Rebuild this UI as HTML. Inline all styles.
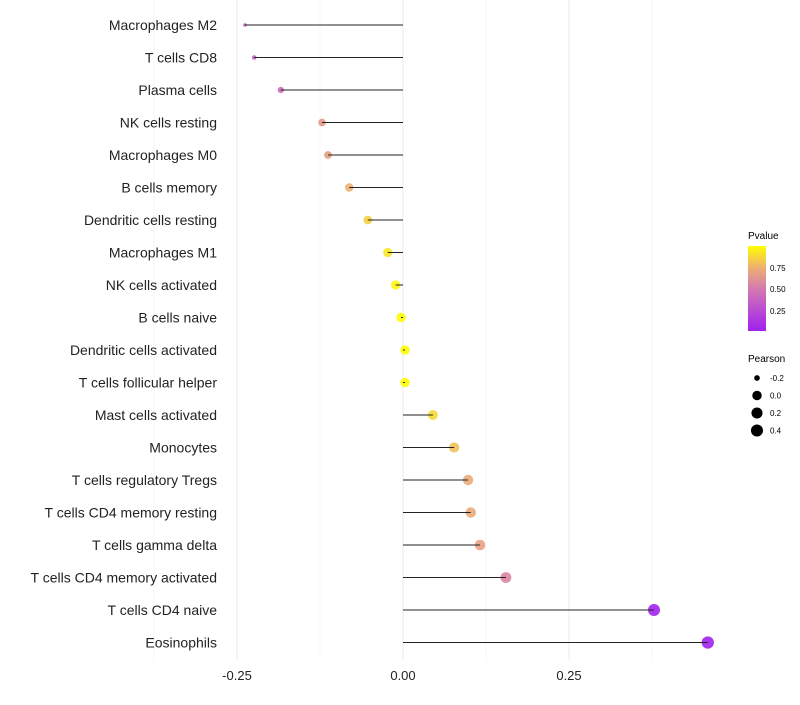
<!DOCTYPE html>
<html><head><meta charset="utf-8"><style>
body{margin:0;background:#fff;font-family:"Liberation Sans",sans-serif}
svg text{font-family:"Liberation Sans",sans-serif}
</style></head><body>
<svg id="chart" width="800" height="700" xmlns="http://www.w3.org/2000/svg">
<defs><linearGradient id="pg" x1="0" y1="1" x2="0" y2="0">
<stop offset="0" stop-color="#a020f0"/><stop offset="0.5" stop-color="#d47ab0"/><stop offset="0.75" stop-color="#eeb070"/><stop offset="1" stop-color="#ffff00"/></linearGradient></defs>
<g id="grid"></g>
<g id="pts"></g>
<g id="marks"></g>
<g id="ylab"></g>
<g id="xlab"></g>
<g>
<text x="748" y="239" font-size="10" fill="#000">Pvalue</text>
<rect x="748" y="246" width="18" height="85" fill="url(#pg)"/>
<text x="770" y="271" font-size="8">0.75</text>
<text x="770" y="292" font-size="8">0.50</text>
<text x="770" y="314" font-size="8">0.25</text>
</g>
<g id="sizeleg">
<text x="748" y="362" font-size="10">Pearson</text>
</g>
</svg>
<script>
const categories=["Macrophages M2","T cells CD8","Plasma cells","NK cells resting","Macrophages M0","B cells memory","Dendritic cells resting","Macrophages M1","NK cells activated","B cells naive","Dendritic cells activated","T cells follicular helper","Mast cells activated","Monocytes","T cells regulatory  Tregs","T cells CD4 memory resting","T cells gamma delta","T cells CD4 memory activated","T cells CD4 naive","Eosinophils"];
const pearson=[-0.238,-0.224,-0.184,-0.122,-0.113,-0.081,-0.053,-0.023,-0.011,-0.003,0.003,0.003,0.045,0.077,0.098,0.102,0.116,0.155,0.378,0.459];
const pvalues=[0.3,0.35,0.4,0.65,0.67,0.75,0.85,0.92,0.97,0.99,0.99,0.99,0.88,0.8,0.72,0.72,0.68,0.55,0.02,0.01];
const xTicks=[-0.25,0,0.25];
const xTickLabels=["-0.25","0.00","0.25"];
const sizeLegend=[-0.2,0,0.2,0.4];
const NS="http://www.w3.org/2000/svg";
const xs=v=>403+v*664;
const ys=i=>25+i*32.5;
const rs=v=>{const s=Math.sqrt(Math.max(0,v+0.245));return 1+9.5*s-4*s*s;};
function col(p){const st=[[0,[160,32,240]],[0.5,[212,122,176]],[0.75,[238,176,112]],[1,[255,255,0]]];
for(let k=1;k<st.length;k++){if(p<=st[k][0]){const a=st[k-1],b=st[k],t=(p-a[0])/(b[0]-a[0]);return 'rgb('+a[1].map((c,j)=>Math.round(c+(b[1][j]-c)*t)).join(',')+')';}}return 'rgb(255,255,0)';}
function mk(t,attrs,parent){const e=document.createElementNS(NS,t);for(const k in attrs)e.setAttribute(k,attrs[k]);parent.appendChild(e);return e;}
const grid=document.getElementById('grid'),marks=document.getElementById('marks'),pts=document.getElementById('pts'),ylab=document.getElementById('ylab'),xlab=document.getElementById('xlab'),sl=document.getElementById('sizeleg');
[-0.375,-0.125,0.125,0.375].forEach(v=>{const l=mk('line',{x1:xs(v),x2:xs(v),y1:0,y2:660,stroke:'#f4f4f4','stroke-width':0.7},grid);

});
xTicks.forEach((v,i)=>{const l=mk('line',{x1:xs(v),x2:xs(v),y1:0,y2:660,stroke:'#ebebeb','stroke-width':1},grid);


const t=mk('text',{x:xs(v),y:680,'font-size':13,'text-anchor':'middle',fill:'#222'},xlab);t.textContent=xTickLabels[i];

});
categories.forEach((c,i)=>{const y=ys(i);
const p=mk('circle',{cx:xs(pearson[i]),cy:y,r:rs(pearson[i]),fill:col(pvalues[i]),'fill-opacity':0.9},pts);


const l=mk('line',{x1:xs(0),x2:xs(pearson[i]),y1:y,y2:y,stroke:'#222','stroke-width':1},marks);


const t=mk('text',{x:217,y:y+5,'font-size':14,'text-anchor':'end',fill:'#222'},ylab);t.textContent=c;

});
sizeLegend.forEach((v,i)=>{const y=378+i*17.5;
const c=mk('circle',{cx:757,cy:y,r:rs(v),fill:'#000'},sl);


const t=mk('text',{x:770,y:y+3,'font-size':8},sl);t.textContent=v.toFixed(1);

});
</script>
</body></html>
